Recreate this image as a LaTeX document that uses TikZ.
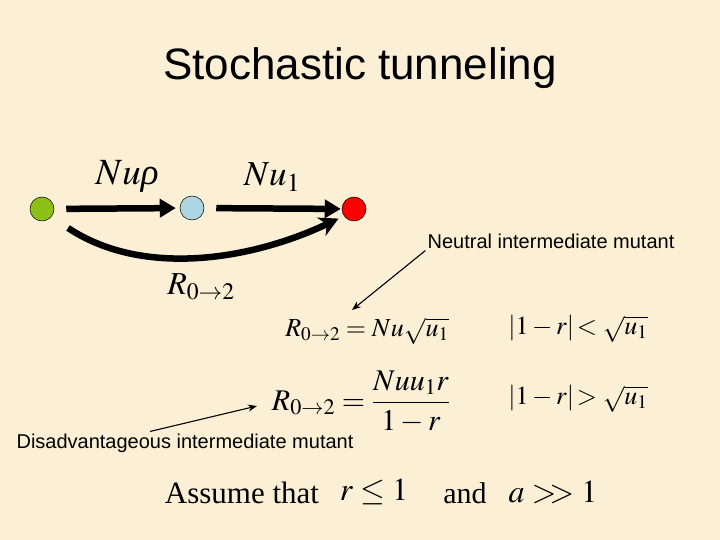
\documentclass[tikz,border=0pt]{standalone}
\usepackage{mathptmx}
\usepackage{fontspec}
\setmainfont{Liberation Serif}
\newfontfamily\arialfont{Liberation Sans}
\usetikzlibrary{arrows.meta}
\definecolor{parchment}{RGB}{251,240,214}
\definecolor{wildgreen}{RGB}{140,192,22}
\definecolor{interblue}{RGB}{172,214,226}

\begin{document}
\begin{tikzpicture}[x=1pt,y=-1pt,
  dot/.style={circle,draw=black,line width=.5pt,minimum size=24pt,inner sep=0pt},
  bigarrow/.style={line width=6.5pt,-{Triangle[length=16pt,width=18pt]}},
  curvearrow/.style={line width=6.5pt,-{Stealth[length=19pt,width=20pt,inset=6pt]}},
  pointer/.style={line width=1.1pt,-{Stealth[length=9pt,width=7pt]}},
  sanslab/.style={font=\arialfont\fontsize{20}{24}\selectfont,inner sep=2pt},
  eq/.style={inner sep=0pt,font=\fontsize{#1}{#1}\selectfont}]
  \fill[parchment] (0,0) rectangle (720,540);
  \useasboundingbox (0,0) rectangle (720,540);
  \node[font=\arialfont\fontsize{44}{50}\selectfont] (title) at (360,68) {Stochastic tunneling};
  % the three types
  \node[dot,fill=wildgreen] (wild) at (42,209) {};
  \node[dot,fill=interblue] (inter) at (192,208) {};
  \node[dot,fill=red] (double) at (354,209) {};
  \draw[bigarrow,shorten <=12pt,shorten >=4pt] (wild) -- (inter);
  \draw[bigarrow,shorten <=12pt,shorten >=1pt] (inter) -- (double);
  \draw[curvearrow,shorten <=20pt,shorten >=6pt] (wild.-40)
    .. controls +(90,60) and +(-95,45) .. (double.215);
  \node[eq=37] (rho) at (127,176) {$Nu$\textit{ρ}};
  \node[eq=35] (ua) at (272,177) {$Nu_1$};
  \node[eq=32] (rate) at (201,287) {$R_{0\to2}$};
  % the two cases
  \node[sanslab] (neutral) at (551,241) {Neutral intermediate mutant};
  \node[eq=26] (eqA) at (367,331) {$R_{0\to2}=Nu\sqrt{u_1}$};
  \node[eq=30] (eqB) at (361,402) {$\displaystyle R_{0\to2}=\frac{Nuu_1r}{1-r}$};
  \node[eq=26] (condA) at (578,329) {$|1-r|\!<\sqrt{u_1}$};
  \node[eq=26] (condB) at (578,399) {$|1-r|\!>\sqrt{u_1}$};
  \node[sanslab] (disadv) at (185,443) {Disadvantageous intermediate mutant};
  \coordinate (tipA) at (352,310);
  \coordinate (tipB) at (257,406);
  \draw[pointer] (neutral.south west) -- (tipA);
  \draw[pointer] ([xshift=-35pt]disadv.north) -- (tipB);
  % assumption
  \node[font=\fontsize{31}{36}\selectfont] (assume) at (242,493) {Assume that};
  \node[eq=32] (condr) at (374,492) {$r\le 1$};
  \node[font=\fontsize{30}{36}\selectfont] (andw) at (465,493) {and};
  \node[eq=32] (conda) at (553,492) {$a>\!\!>1$};
\end{tikzpicture}
\end{document}
